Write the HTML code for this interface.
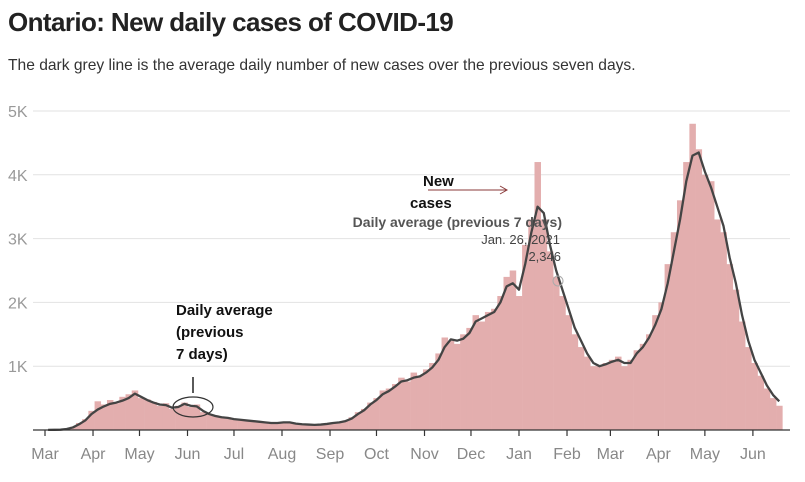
<!DOCTYPE html>
<html><head><meta charset="utf-8"><style>
body{margin:0;width:805px;height:482px;background:#fff;font-family:"Liberation Sans",sans-serif;overflow:hidden;position:relative}
h1{position:absolute;left:8px;top:7px;margin:0;font-size:26px;font-weight:bold;color:#222;letter-spacing:-0.6px}
p{position:absolute;left:8px;top:57px;margin:0;font-size:15.6px;color:#333}
</style></head><body>
<h1>Ontario: New daily cases of COVID-19</h1>
<p>The dark grey line is the average daily number of new cases over the previous seven days.</p>
<svg id="c" width="805" height="482" style="position:absolute;left:0;top:0"></svg>
<script>
const stepDays=4;
const avgValues=[2,3,5,15,40,90,150,250,320,370,410,430,460,500,570,520,470,430,400,390,350,360,410,380,370,300,250,220,200,190,170,160,150,140,130,120,110,110,120,120,100,90,85,80,85,95,110,120,140,180,250,310,400,470,560,610,680,760,780,820,840,900,980,1100,1300,1420,1400,1430,1520,1700,1750,1800,1850,2000,2250,2300,2200,2600,3100,3500,3400,2900,2500,2200,1900,1600,1400,1200,1050,1000,1030,1070,1100,1050,1050,1200,1300,1450,1650,1900,2300,2800,3300,3900,4300,4350,4050,3800,3500,3200,2700,2300,1800,1400,1100,900,700,550,450];
const barValues=[3,4,8,20,50,110,170,300,450,400,470,420,520,560,620,500,480,440,380,420,330,380,430,360,400,280,240,230,190,200,160,170,140,150,120,130,100,120,130,110,100,80,90,75,90,100,120,110,150,200,280,330,430,500,620,650,720,820,760,900,850,950,1050,1200,1450,1400,1350,1500,1600,1800,1700,1850,1900,2100,2400,2500,2100,2900,3300,4200,3300,2800,2400,2100,1800,1500,1300,1150,1000,1000,1050,1100,1150,1000,1100,1250,1350,1500,1800,2000,2600,3100,3600,4200,4800,4400,4000,3900,3300,3100,2600,2200,1700,1300,1050,850,650,500,380];
const yTicks=[1000,2000,3000,4000,5000];
const yTickLabels=["1K","2K","3K","4K","5K"];
const monthLabels=["Mar","Apr","May","Jun","Jul","Aug","Sep","Oct","Nov","Dec","Jan","Feb","Mar","Apr","May","Jun"];
const monthDays=[0,31,61,92,122,153,184,214,245,275,306,337,365,396,426,457];
const NS="http://www.w3.org/2000/svg";
const svg=document.getElementById('c');
const x=d=>45+d*1.549;
const y=v=>430-v*0.0638;
function mk(t,a,parent){const e=document.createElementNS(NS,t);for(const k in a)e.setAttribute(k,a[k]);(parent||svg).appendChild(e);return e;}
yTicks.forEach((v,i)=>{
 const g=mk('line',{x1:33,x2:790,y1:y(v),y2:y(v),stroke:'#e2e2e2','stroke-width':1});
 
 
 const t=mk('text',{x:8,y:y(v)+6,'font-size':16,fill:'#999','font-family':'Liberation Sans, sans-serif'});
 t.textContent=yTickLabels[i];
 
 
});
barValues.forEach((v,i)=>{
 const b=mk('rect',{x:x(i*stepDays),y:y(v),width:stepDays*1.549+0.3,height:430-y(v),fill:'#e3aeae'});
 
 
});
const pts=avgValues.map((v,i)=>x(i*stepDays+2)+','+y(v)).join(' ');
const line=mk('polyline',{points:pts,fill:'none',stroke:'#444','stroke-width':2.3,'stroke-linejoin':'round'});


const ax=mk('line',{x1:33,x2:790,y1:430,y2:430,stroke:'#333','stroke-width':1.2});


monthDays.forEach((d,i)=>{
 const tk=mk('line',{x1:x(d),x2:x(d),y1:430,y2:436,stroke:'#333','stroke-width':1.2});
 
 
 const t=mk('text',{x:x(d),y:459,'font-size':16,fill:'#888','text-anchor':'middle','font-family':'Liberation Sans, sans-serif'});
 t.textContent=monthLabels[i];
 
 
});
</script>
<svg width="805" height="482" style="position:absolute;left:0;top:0">
<g font-family="Liberation Sans, sans-serif">
<text x="423" y="186" font-size="15" font-weight="bold" fill="#111">New</text>
<text x="410" y="208" font-size="15" font-weight="bold" fill="#111">cases</text>
<line x1="428" y1="190" x2="507" y2="190" stroke="#8a3a3a" stroke-width="1"/>
<polyline points="500,186 507,190 500,194" fill="none" stroke="#8a3a3a"/>
<text x="562" y="227" font-size="14" font-weight="bold" fill="#555" text-anchor="end">Daily average (previous 7 days)</text>
<text x="560" y="244" font-size="13" fill="#444" text-anchor="end">Jan. 26, 2021</text>
<text x="561" y="261" font-size="13" fill="#444" text-anchor="end">2,346</text>
<circle cx="558" cy="281" r="5" fill="none" stroke="#aaa"/>
<text x="176" y="315" font-size="15" font-weight="bold" fill="#111">Daily average</text>
<text x="176" y="337" font-size="15" font-weight="bold" fill="#111">(previous</text>
<text x="176" y="359" font-size="15" font-weight="bold" fill="#111">7 days)</text>
<line x1="193" y1="377" x2="193" y2="393" stroke="#222" stroke-width="1.5"/>
<ellipse cx="193" cy="407" rx="20" ry="10" fill="none" stroke="#333" stroke-width="1.2"/>
</g></svg>
</body></html>
